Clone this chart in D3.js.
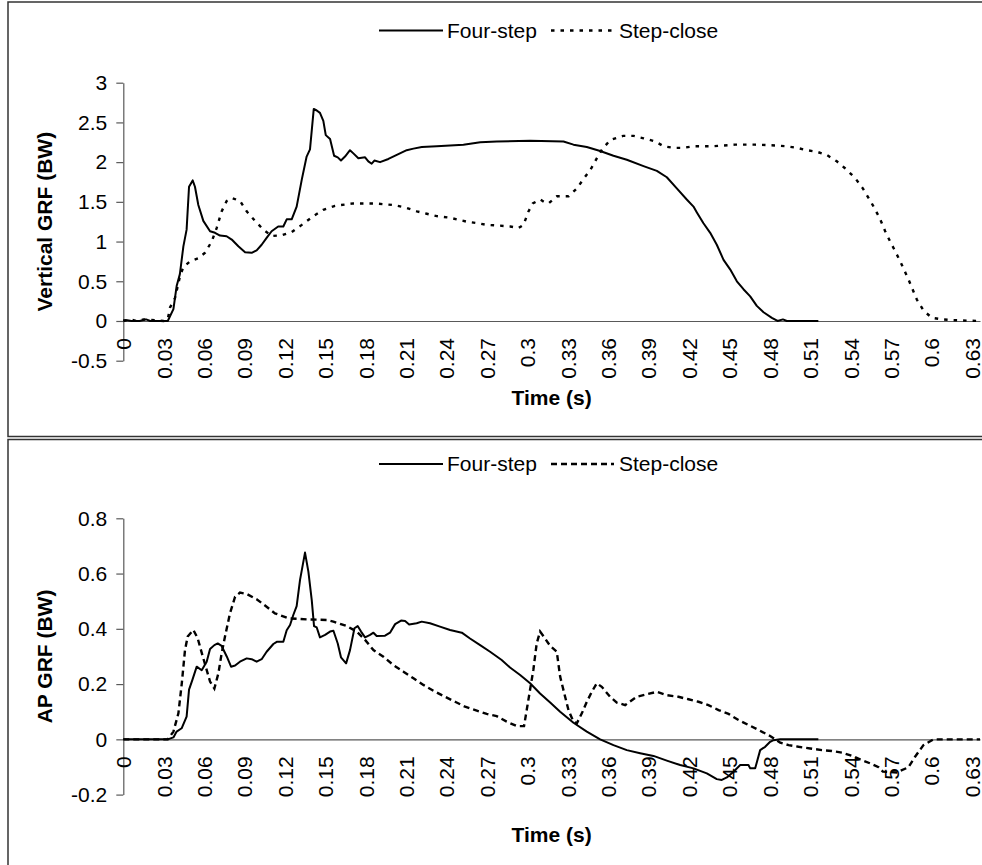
<!DOCTYPE html>
<html>
<head>
<meta charset="utf-8">
<script src="https://cdn.jsdelivr.net/npm/d3@7"></script>
<style>
  body { margin: 0; background: #fff; }
  text { font-family: "Liberation Sans", Arial, sans-serif; }
</style>
</head>
<body>
<div id="chart"></div>
<script>
// Series names
var seriesNames = ["Four-step", "Step-close"];

// x tick labels (time, s)
var timeTicks = [0, 0.03, 0.06, 0.09, 0.12, 0.15, 0.18, 0.21, 0.24, 0.27, 0.3, 0.33,
                 0.36, 0.39, 0.42, 0.45, 0.48, 0.51, 0.54, 0.57, 0.6, 0.63];

// Vertical GRF ticks
var vertTicks = [-0.5, 0, 0.5, 1, 1.5, 2, 2.5, 3];
// AP GRF ticks
var apTicks = [-0.2, 0, 0.2, 0.4, 0.6, 0.8];

// Vertical GRF - Four-step
var vertFourT = [0, 0.003, 0.006, 0.012, 0.017, 0.02, 0.033, 0.0372, 0.0396, 0.042, 0.0446, 0.047, 0.0488,
  0.0515, 0.0532, 0.0557, 0.0594, 0.0644, 0.0681, 0.0718, 0.0767, 0.0805, 0.0854, 0.0904, 0.0953, 0.099,
  0.1027, 0.1064, 0.1101, 0.115, 0.1188, 0.1213, 0.125, 0.1287, 0.1325, 0.1361, 0.1386, 0.1414, 0.1436,
  0.146, 0.1485, 0.1503, 0.1535, 0.1565, 0.1592, 0.1616, 0.1646, 0.1683, 0.1708, 0.1745, 0.1795, 0.1819,
  0.1844, 0.1864, 0.1906, 0.1968, 0.2042, 0.2104, 0.2154, 0.2216, 0.2327, 0.2525, 0.265, 0.2773, 0.302,
  0.3268, 0.3342, 0.3441, 0.354, 0.3639, 0.3738, 0.3862, 0.3961, 0.4035, 0.4109, 0.4183, 0.4233, 0.4257,
  0.4307, 0.4357, 0.4406, 0.4456, 0.4505, 0.4555, 0.4604, 0.4654, 0.4703, 0.4753, 0.4815, 0.4857, 0.4897,
  0.4926, 0.516];
var vertFour = [0.01, 0.01, 0, 0, 0.02, 0, 0, 0.15, 0.44, 0.59, 0.94, 1.15, 1.69,
  1.77, 1.69, 1.46, 1.26, 1.13, 1.11, 1.075, 1.067, 1.025, 0.94, 0.866, 0.858, 0.89,
  0.96, 1.046, 1.13, 1.19, 1.19, 1.28, 1.28, 1.44, 1.78, 2.07, 2.16, 2.67, 2.65,
  2.62, 2.52, 2.34, 2.29, 2.08, 2.06, 2.02, 2.07, 2.15, 2.11, 2.05, 2.06, 2.01,
  1.98, 2.02, 2.0, 2.04, 2.10, 2.15, 2.17, 2.19, 2.20, 2.22, 2.25, 2.26, 2.27,
  2.26, 2.22, 2.19, 2.14, 2.08, 2.03, 1.95, 1.89, 1.81, 1.67, 1.53, 1.44, 1.37,
  1.23, 1.11, 0.96, 0.77, 0.65, 0.50, 0.40, 0.31, 0.19, 0.11, 0.04, 0, 0.02,
  0, 0];

// Vertical GRF - Step-close
var vertStepT = [0, 0.005, 0.01, 0.015, 0.03, 0.033, 0.0347, 0.0384, 0.0421, 0.0446, 0.0495, 0.0557, 0.0607,
  0.0656, 0.0693, 0.073, 0.0767, 0.0805, 0.0867, 0.0916, 0.0978, 0.104, 0.1101, 0.1176, 0.125, 0.1325,
  0.1411, 0.1485, 0.1572, 0.1708, 0.1869, 0.2005, 0.2092, 0.218, 0.2253, 0.2327, 0.2426, 0.255, 0.2636,
  0.2698, 0.2797, 0.2872, 0.2933, 0.2971, 0.3008, 0.304, 0.3095, 0.3132, 0.3157, 0.3219, 0.3306, 0.3368,
  0.3417, 0.3467, 0.3516, 0.3554, 0.3616, 0.371, 0.3788, 0.3863, 0.395, 0.4011, 0.4085, 0.416, 0.4233,
  0.438, 0.4543, 0.4691, 0.484, 0.4926, 0.5, 0.5075, 0.515, 0.5223, 0.5297, 0.536, 0.5433, 0.549, 0.5557,
  0.5614, 0.5656, 0.5693, 0.573, 0.5768, 0.583, 0.5891, 0.5941, 0.6003, 0.6077, 0.6164, 0.636];
var vertStep = [0, 0.02, 0, 0.02, 0, 0.02, 0.17, 0.29, 0.565, 0.68, 0.75, 0.79, 0.86,
  1.00, 1.17, 1.38, 1.51, 1.55, 1.51, 1.38, 1.26, 1.15, 1.07, 1.08, 1.12, 1.21,
  1.32, 1.40, 1.45, 1.48, 1.48, 1.46, 1.43, 1.38, 1.35, 1.32, 1.30, 1.25, 1.23,
  1.21, 1.20, 1.19, 1.17, 1.21, 1.38, 1.48, 1.53, 1.49, 1.48, 1.57, 1.57, 1.67,
  1.79, 1.90, 2.05, 2.16, 2.28, 2.33, 2.33, 2.30, 2.26, 2.20, 2.18, 2.18, 2.20,
  2.20, 2.22, 2.22, 2.21, 2.20, 2.18, 2.15, 2.13, 2.09, 2.01, 1.92, 1.80, 1.67, 1.48,
  1.30, 1.13, 1.00, 0.88, 0.75, 0.52, 0.27, 0.13, 0.04, 0.02, 0.01, 0];

// AP GRF - Four-step
var apFourT = [0, 0.033, 0.0372, 0.0396, 0.0433, 0.047, 0.0488, 0.0513, 0.0545, 0.0582, 0.0619, 0.0644,
  0.0676, 0.0701, 0.073, 0.0768, 0.08, 0.083, 0.0866, 0.0916, 0.0953, 0.099, 0.1027, 0.1064, 0.1114,
  0.1139, 0.1188, 0.1213, 0.1238, 0.1262, 0.1287, 0.1312, 0.1349, 0.1374, 0.1399, 0.1416, 0.1436, 0.146,
  0.1498, 0.1535, 0.156, 0.1592, 0.1616, 0.1654, 0.1683, 0.1716, 0.174, 0.1765, 0.1795, 0.1832, 0.1857,
  0.1881, 0.1943, 0.198, 0.2018, 0.2062, 0.2092, 0.2122, 0.2178, 0.2215, 0.2277, 0.2351, 0.2426, 0.2513,
  0.2574, 0.2649, 0.2723, 0.2809, 0.2871, 0.2946, 0.302, 0.3094, 0.3169, 0.3243, 0.3342, 0.3441, 0.354,
  0.3639, 0.3738, 0.3837, 0.3936, 0.4035, 0.4134, 0.4233, 0.4332, 0.4406, 0.4443, 0.4481, 0.453, 0.458,
  0.4641, 0.4654, 0.4691, 0.4728, 0.4765, 0.4802, 0.4827, 0.4877, 0.516];
var apFour = [0, 0, 0.007, 0.028, 0.04, 0.082, 0.18, 0.215, 0.263, 0.25, 0.281, 0.327,
  0.341, 0.347, 0.338, 0.30, 0.263, 0.267, 0.281, 0.293, 0.290, 0.281, 0.290, 0.317, 0.345,
  0.353, 0.353, 0.395, 0.414, 0.45, 0.482, 0.577, 0.676, 0.607, 0.504, 0.41, 0.405, 0.369,
  0.378, 0.39, 0.393, 0.347, 0.297, 0.275, 0.323, 0.402, 0.41, 0.39, 0.369, 0.378, 0.386,
  0.374, 0.375, 0.386, 0.417, 0.43, 0.428, 0.416, 0.42, 0.426, 0.42, 0.408, 0.396, 0.386,
  0.365, 0.341, 0.317, 0.287, 0.26, 0.233, 0.203, 0.166, 0.133, 0.10, 0.06, 0.028, 0,
  -0.021, -0.039, -0.05, -0.06, -0.077, -0.093, -0.105, -0.123, -0.144, -0.147, -0.138, -0.117, -0.093,
  -0.093, -0.105, -0.105, -0.039, -0.027, -0.009, -0.003, 0, 0];

// AP GRF - Step-close
var apStepT = [0, 0.033, 0.0372, 0.0409, 0.0433, 0.0458, 0.0478, 0.052, 0.0552, 0.0587, 0.0612, 0.0644,
  0.0676, 0.0706, 0.073, 0.0755, 0.0792, 0.083, 0.0866, 0.0916, 0.099, 0.1064, 0.1126, 0.1225, 0.1374,
  0.151, 0.156, 0.1659, 0.1733, 0.1795, 0.1857, 0.1931, 0.2005, 0.208, 0.2154, 0.2228, 0.2302, 0.2389,
  0.2463, 0.2537, 0.2624, 0.2698, 0.2772, 0.2846, 0.2921, 0.2975, 0.3007, 0.3044, 0.3069, 0.3094, 0.3131,
  0.3169, 0.3218, 0.3243, 0.328, 0.3305, 0.3342, 0.3367, 0.3404, 0.3441, 0.3478, 0.3515, 0.3552, 0.3614,
  0.3664, 0.3726, 0.3812, 0.3886, 0.3961, 0.4035, 0.4121, 0.4196, 0.427, 0.4344, 0.4419, 0.4493, 0.4567,
  0.4641, 0.4716, 0.4802, 0.4877, 0.4939, 0.5013, 0.51, 0.5186, 0.526, 0.5335, 0.5409, 0.5483, 0.5545,
  0.5607, 0.5639, 0.574, 0.5829, 0.5878, 0.594, 0.6014, 0.636];
var apStep = [0, 0, 0.028, 0.094, 0.197, 0.323, 0.372, 0.396, 0.366, 0.305, 0.263, 0.209,
  0.184, 0.239, 0.311, 0.372, 0.456, 0.516, 0.531, 0.526, 0.507, 0.48, 0.456, 0.438, 0.434,
  0.432, 0.426, 0.41, 0.39, 0.36, 0.323, 0.299, 0.269, 0.245, 0.221, 0.197, 0.176, 0.154,
  0.136, 0.118, 0.104, 0.092, 0.084, 0.064, 0.048, 0.048, 0.142, 0.251, 0.347, 0.39, 0.365,
  0.338, 0.317, 0.227, 0.154, 0.106, 0.064, 0.058, 0.094, 0.136, 0.172, 0.203, 0.19, 0.154,
  0.133, 0.124, 0.154, 0.163, 0.172, 0.16, 0.154, 0.145, 0.136, 0.124, 0.106, 0.092, 0.07,
  0.052, 0.034, 0.012, -0.012, -0.021, -0.027, -0.033, -0.039, -0.042, -0.048, -0.06, -0.075, -0.087,
  -0.101, -0.117, -0.12, -0.101, -0.063, -0.021, 0, 0];

var W = 982, H = 865;
var svg = d3.select("#chart")
            .append("svg")
            .attr("width", W)
            .attr("height", H)
            .style("display", "block");

var fontSize = 21;
var axisColor = "#595959";

function zip(ts, vs) {
    return ts.map(function(t, i) { return {t: t, v: vs[i]}; });
}

function drawPanel(p) {
    var g = svg.append("g");

    // Panel border
    g.append("rect")
     .attr("x", p.box[0]).attr("y", p.box[1])
     .attr("width", p.box[2]).attr("height", p.box[3])
     .attr("fill", "white")
     .attr("stroke", "#333")
     .attr("stroke-width", 1.5);

    var x = d3.scaleLinear().domain([0, 0.636]).range([123.3, 980]);
    var y = d3.scaleLinear().domain(p.yDomain).range(p.yRange);

    // y axis
    var yAxis = d3.axisLeft(y)
                  .tickValues(p.yTicks)
                  .tickSize(7)
                  .tickSizeOuter(0)
                  .tickPadding(9)
                  .tickFormat(function(d) { return String(d); });
    var ya = g.append("g").attr("transform", "translate(" + x(0) + ",0)").call(yAxis);
    ya.select(".domain").attr("stroke", axisColor).attr("stroke-width", 1.2);
    ya.selectAll(".tick line").attr("stroke", axisColor).attr("stroke-width", 1.2);
    ya.selectAll(".tick text")
      .attr("font-family", "Liberation Sans, Arial, sans-serif")
      .attr("font-size", fontSize)
      .attr("fill", "#000");

    // x axis at y = 0
    var xAxis = d3.axisBottom(x)
                  .tickValues(timeTicks)
                  .tickSize(0)
                  .tickSizeOuter(0)
                  .tickFormat(function(d) { return String(d); });
    var xa = g.append("g").attr("transform", "translate(0," + y(0) + ")").call(xAxis);
    xa.select(".domain").attr("stroke", axisColor).attr("stroke-width", 1.2);
    xa.selectAll(".tick text")
      .attr("font-family", "Liberation Sans, Arial, sans-serif")
      .attr("font-size", fontSize)
      .attr("fill", "#000")
      .attr("text-anchor", "end")
      .attr("transform", "rotate(-90)")
      .attr("x", -17)
      .attr("y", 0)
      .attr("dy", "0.35em");

    // Axis titles
    g.append("text")
     .attr("transform", "translate(45," + ((p.yRange[0] + p.yRange[1]) / 2) + ") rotate(-90)")
     .attr("text-anchor", "middle")
     .attr("dy", "0.35em")
     .attr("font-size", fontSize)
     .attr("font-weight", "bold")
     .text(p.yTitle);

    g.append("text")
     .attr("x", (x.range()[0] + x.range()[1]) / 2)
     .attr("y", p.xTitleY)
     .attr("text-anchor", "middle")
     .attr("dy", "0.35em")
     .attr("font-size", fontSize)
     .attr("font-weight", "bold")
     .text("Time (s)");

    // Lines
    var line = d3.line().x(function(d) { return x(d.t); })
                        .y(function(d) { return y(d.v); });

    g.append("path")
     .attr("d", line(p.four))
     .attr("fill", "none")
     .attr("stroke", "#000")
     .attr("stroke-width", 2)
     .attr("stroke-linejoin", "round");

    g.append("path")
     .attr("d", line(p.step))
     .attr("fill", "none")
     .attr("stroke", "#000")
     .attr("stroke-width", 2.4)
     .attr("stroke-dasharray", p.dash);

    // Legend
    var ly = p.legendY;
    g.append("line").attr("x1", 379).attr("x2", 443).attr("y1", ly).attr("y2", ly)
     .attr("stroke", "#000").attr("stroke-width", 2);
    g.append("text").attr("x", 447).attr("y", ly).attr("dy", "0.35em")
     .attr("font-size", fontSize).text(seriesNames[0]);
    g.append("line").attr("x1", 551).attr("x2", 614).attr("y1", ly).attr("y2", ly)
     .attr("stroke", "#000").attr("stroke-width", 2.4).attr("stroke-dasharray", p.dash);
    g.append("text").attr("x", 619).attr("y", ly).attr("dy", "0.35em")
     .attr("font-size", fontSize).text(seriesNames[1]);
}

drawPanel({
    box: [8, 2, 990, 434.5],
    yDomain: [-0.5, 3],
    yRange: [360.7, 82.7],
    yTicks: vertTicks,
    yTitle: "Vertical GRF (BW)",
    xTitleY: 398,
    legendY: 30.5,
    dash: "3.5,6",
    four: zip(vertFourT, vertFour),
    step: zip(vertStepT, vertStep)
});

drawPanel({
    box: [8, 439.5, 990, 440],
    yDomain: [-0.2, 0.8],
    yRange: [794.6, 518.3],
    yTicks: apTicks,
    yTitle: "AP GRF (BW)",
    xTitleY: 835,
    legendY: 464,
    dash: "6,4",
    four: zip(apFourT, apFour),
    step: zip(apStepT, apStep)
});
</script>
</body>
</html>
